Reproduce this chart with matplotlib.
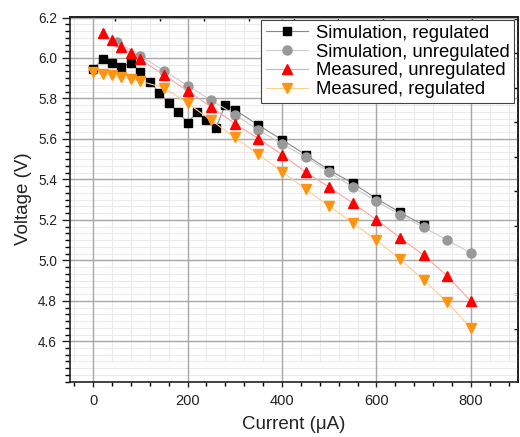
import matplotlib
matplotlib.use("Agg")
import matplotlib.pyplot as plt
import numpy as np

plt.rcParams['font.family'] = ['Liberation Sans', 'DejaVu Sans']

# simulation, regulated
sim_reg_x = [0, 20, 40, 60, 80, 100, 120, 140, 160, 180, 200, 220, 240, 260, 280, 300,
             350, 400, 450, 500, 550, 600, 650, 700]
sim_reg_y = [5.947, 5.993, 5.977, 5.954, 5.977, 5.930, 5.883, 5.828, 5.778, 5.731, 5.681,
             5.731, 5.692, 5.653, 5.770, 5.744, 5.668, 5.596, 5.522, 5.446, 5.381, 5.305,
             5.237, 5.174]

# simulation, unregulated
sim_unreg_x = [50, 100, 150, 200, 250, 300, 350, 400, 450, 500, 550, 600, 650, 700, 750, 800]
sim_unreg_y = [6.080, 6.011, 5.937, 5.864, 5.791, 5.720, 5.645, 5.574, 5.511, 5.435,
               5.362, 5.292, 5.226, 5.163, 5.100, 5.036]

# measured, unregulated
meas_unreg_x = [20, 40, 60, 80, 100, 150, 200, 250, 300, 350, 400, 450, 500, 550, 600,
                650, 700, 750, 800]
meas_unreg_y = [6.122, 6.088, 6.056, 6.024, 5.993, 5.916, 5.838, 5.758, 5.676, 5.602,
                5.522, 5.436, 5.362, 5.283, 5.200, 5.112, 5.025, 4.923, 4.798]

# measured, regulated
meas_reg_x = [0, 20, 40, 60, 80, 100, 150, 200, 250, 300, 350, 400, 450, 500, 550, 600,
              650, 700, 750, 800]
meas_reg_y = [5.932, 5.919, 5.916, 5.904, 5.896, 5.885, 5.853, 5.777, 5.692, 5.608,
              5.524, 5.438, 5.352, 5.268, 5.185, 5.099, 5.006, 4.903, 4.793, 4.664]

fig = plt.figure(figsize=(5.2, 4.37), dpi=100)
ax = fig.add_axes([0.1337, 0.1265, 0.8625, 0.8357])

xlim = (-50, 900)
ylim = (4.495, 6.205)
ax.set_xlim(xlim)
ax.set_ylim(ylim)

xminor = np.arange(-40, 900, 40)
yminor = np.arange(4.4, 6.21, 0.2 / 6)
ax.set_xticks([0, 200, 400, 600, 800])
ax.set_xticks(xminor, minor=True)
ax.set_yticks([4.6, 4.8, 5.0, 5.2, 5.4, 5.6, 5.8, 6.0, 6.2])
ax.set_yticks(yminor, minor=True)

# light minor grid first, darker major grid over it
ax.vlines(xminor, ylim[0], ylim[1], color='#ebebeb', linewidth=0.8, zorder=0.1)
ax.hlines(yminor, xlim[0], xlim[1], color='#ebebeb', linewidth=0.8, zorder=0.1)
ax.grid(which='major', color='#a8a8a8', linewidth=1.0)
ax.set_axisbelow(True)

ax.plot(sim_reg_x, sim_reg_y, color='#8a8a8a', linewidth=0.8, marker='s',
        markersize=6, markerfacecolor='black', markeredgecolor='black',
        label='Simulation, regulated')
ax.plot(sim_unreg_x, sim_unreg_y, color='#cccccc', linewidth=0.8, marker='o',
        markersize=6.5, markerfacecolor='#999999', markeredgecolor='#999999',
        label='Simulation, unregulated')
ax.plot(meas_unreg_x, meas_unreg_y, color='#ffa0a0', linewidth=0.8, marker='^',
        markersize=7, markerfacecolor='#ff0000', markeredgecolor='#ff0000',
        label='Measured, unregulated')
ax.plot(meas_reg_x, meas_reg_y, color='#ffcc90', linewidth=0.8, marker='v',
        markersize=7, markerfacecolor='#ff9410', markeredgecolor='#ff9410',
        label='Measured, regulated')

for s in ax.spines.values():
    s.set_linewidth(1.2)
    s.set_color('#222222')

ax.tick_params(axis='x', which='major', direction='out', length=3.5, width=1.0,
               labelsize=10.5, pad=5, colors='#222222')
ax.tick_params(axis='x', which='minor', direction='out', length=3, width=1.0)
ax.tick_params(axis='y', which='major', direction='out', length=6, width=1.0,
               labelsize=9.8, pad=3, colors='#222222')
ax.tick_params(axis='y', which='minor', direction='out', length=3.5, width=1.0)
ax.set_yticklabels(['4.6', '4.8', '5.0', '5.2', '5.4', '5.6', '5.8', '6.0', '6.2'])

# top and right axes carry their own inward ticks
top = ax.secondary_xaxis('top')
top.set_xticks(np.linspace(47, 802, 9), labels=[])
top.tick_params(direction='in', length=3, width=1.0)
top.spines['top'].set_linewidth(1.2)
right = ax.secondary_yaxis('right')
right.set_yticks(np.linspace(4.661, 6.194, 10), labels=[])
right.tick_params(direction='in', length=3, width=1.0)
right.spines['right'].set_linewidth(1.2)

ax.set_xlabel('Current (μA)', fontsize=13.5, color='#222222', labelpad=6)
ax.set_ylabel('Voltage (V)', fontsize=13.5, color='#222222', labelpad=4)

leg = ax.legend(loc='upper right', bbox_to_anchor=(0.991, 0.99), borderaxespad=0,
                fontsize=13.3, labelspacing=0.1, handlelength=2.3, handletextpad=0.4,
                borderpad=0.25, fancybox=False, framealpha=1, edgecolor='#444444')
leg.get_frame().set_linewidth(0.8)

fig.savefig('out.png', dpi=100)
